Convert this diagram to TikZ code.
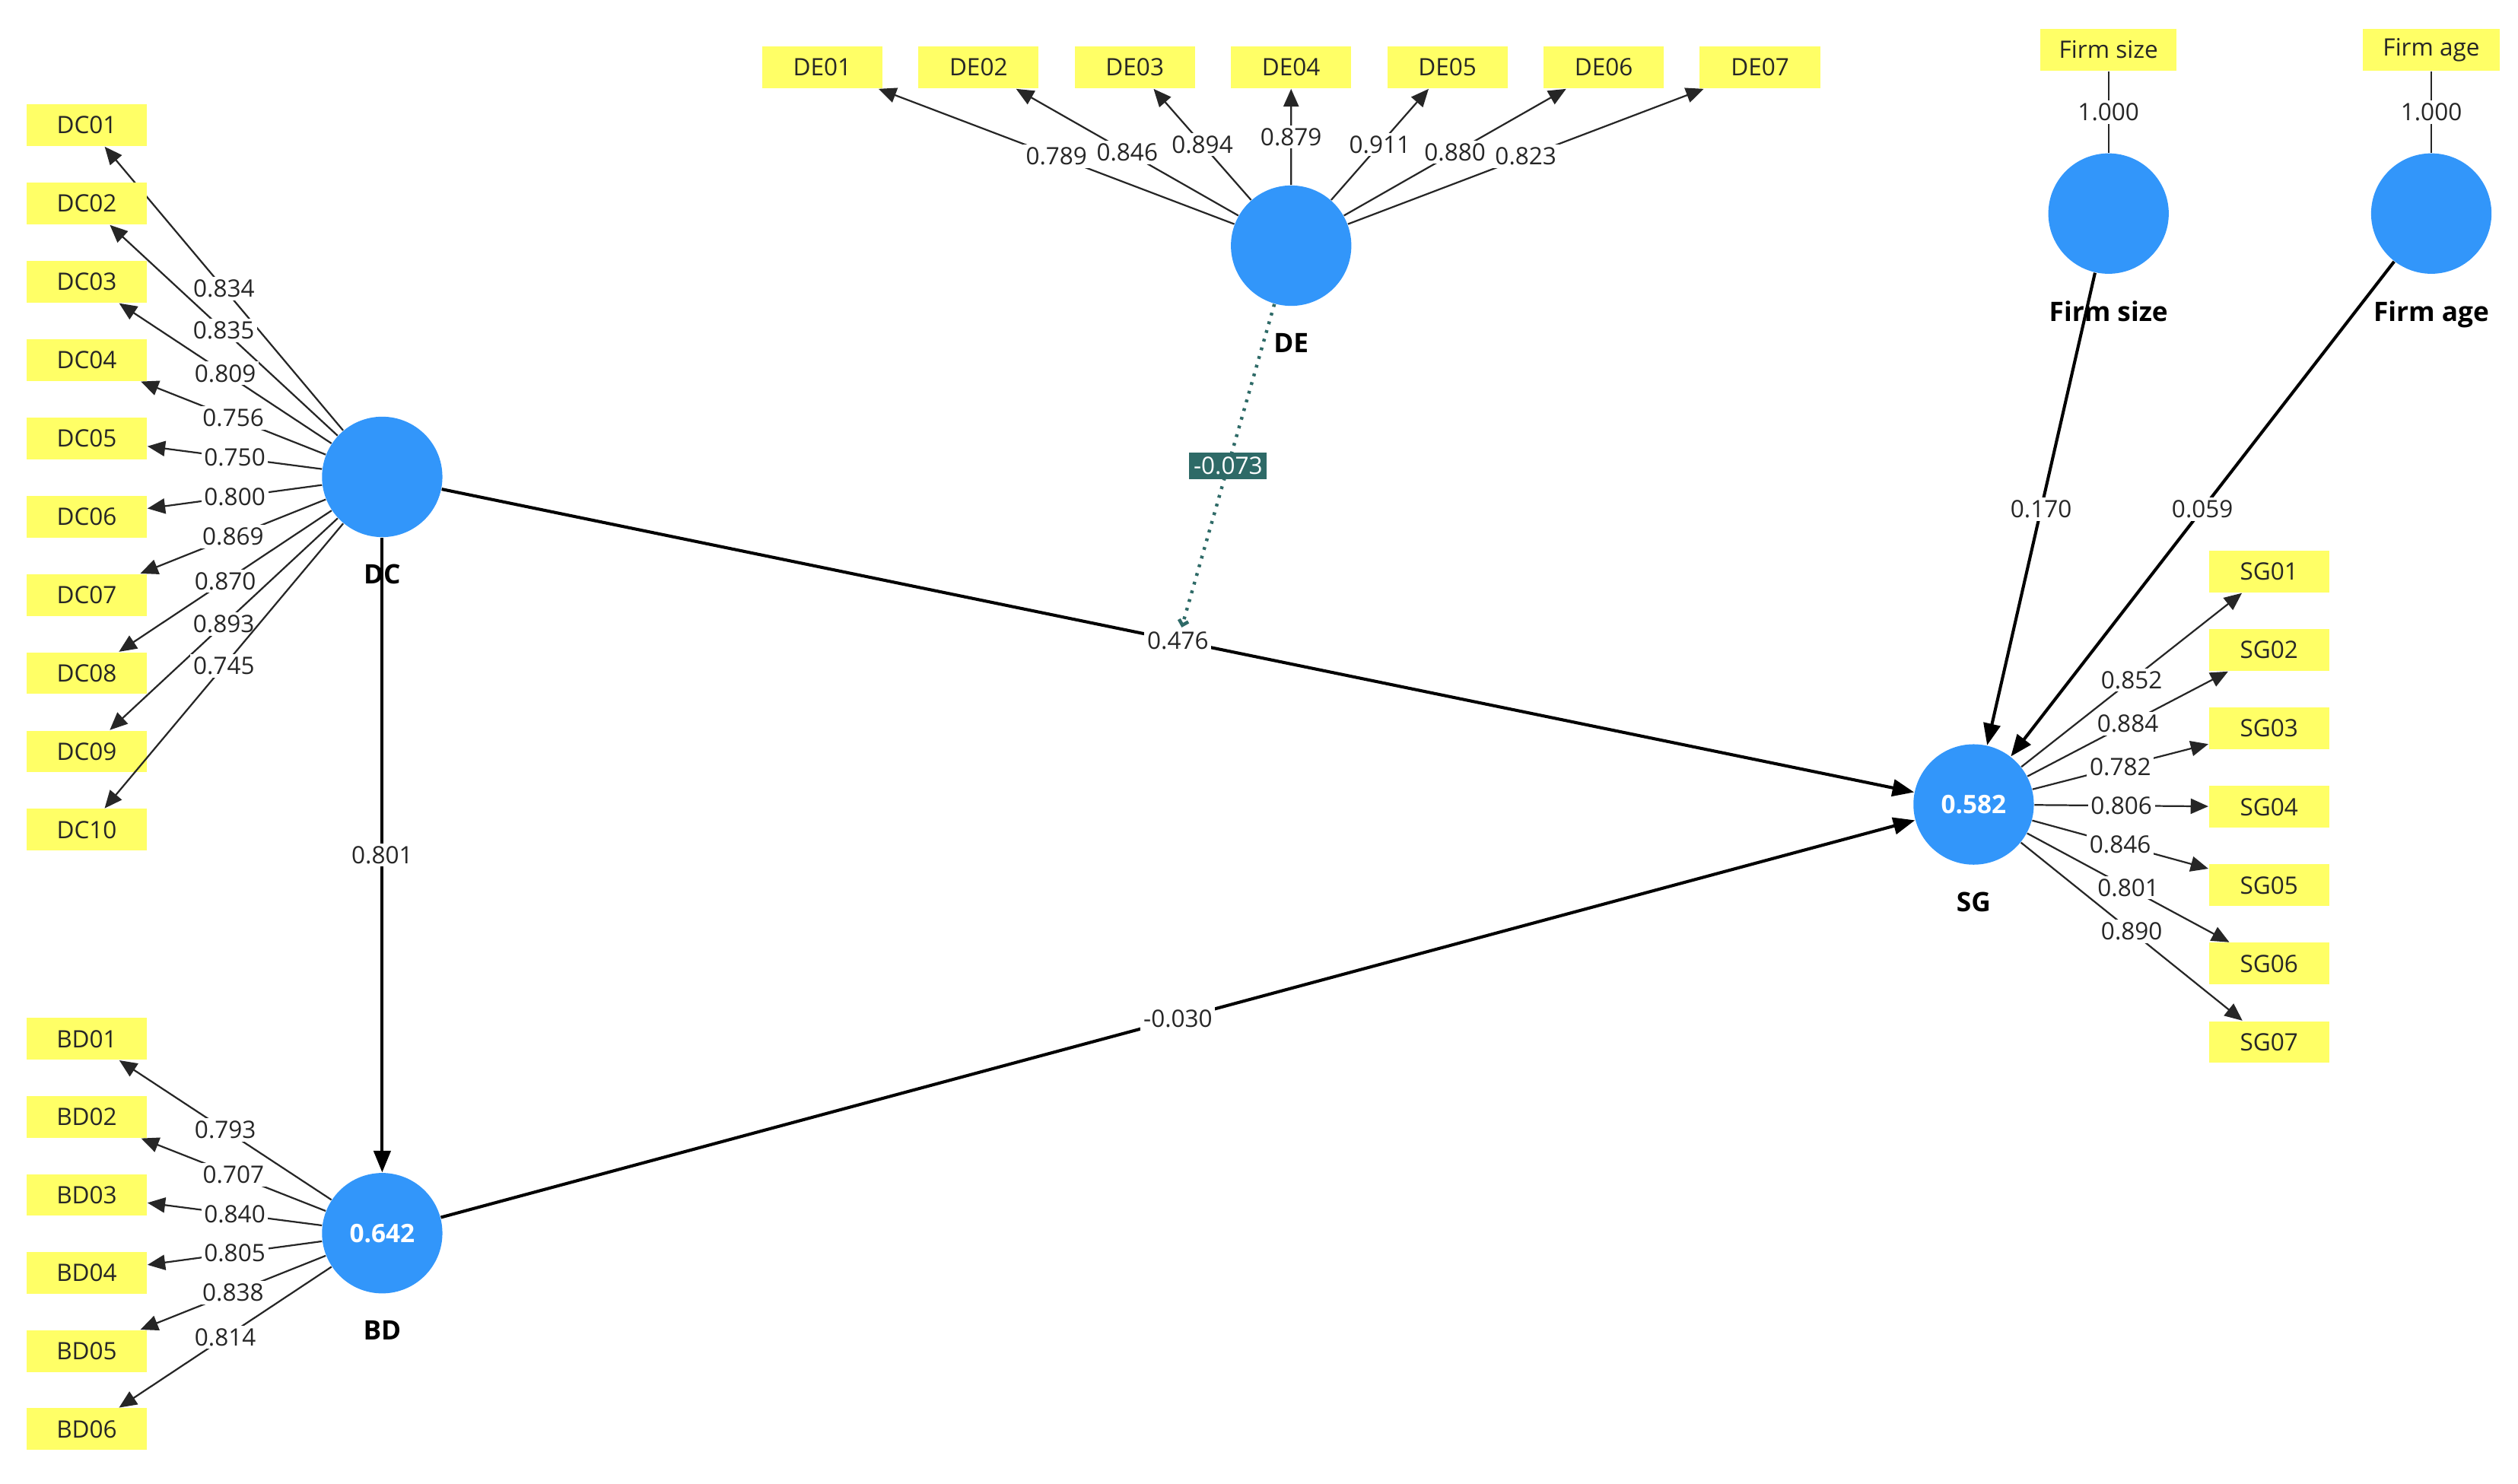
\documentclass[tikz,border=0pt]{standalone}
\usepackage{fontspec}
\setmainfont{Open Sans}
\usepackage{tikz}
\usetikzlibrary{positioning, arrows, arrows.meta}

\definecolor{lvblue}{HTML}{3296FA}
\definecolor{mvyellow}{HTML}{FFFF66}
\definecolor{modteal}{HTML}{2E6A67}

\tikzset{
  latent/.style={circle, fill=lvblue, minimum size=1.5cm, inner sep=0pt,
    text=white, font=\bfseries\fontsize{9}{10}\selectfont},
  ind/.style={rectangle, fill=mvyellow, minimum width=1.5cm, minimum height=0.52cm,
    inner sep=0pt, text=black!85, font=\fontsize{8.5}{10}\selectfont},
  lname/.style={font=\bfseries\fontsize{9.5}{11}\selectfont, inner sep=0pt,
    label distance=0.33cm},
  lval/.style={fill=white, inner sep=1pt, text=black!85, font=\fontsize{8.5}{10}\selectfont},
  load/.style={-{Triangle[length=0.22cm,width=0.19cm]}, line width=0.6pt, black!85},
  struct/.style={-{Triangle[length=0.27cm,width=0.21cm]}, line width=1.1pt, black},
  modline/.style={-{Straight Barb[length=0.6mm,width=1.2mm]}, modteal, line width=1.2pt,
    dash pattern=on 1pt off 2.2pt},
  modlbl/.style={fill=modteal, text=white, inner sep=1.5pt, font=\fontsize{8.5}{10}\selectfont}
}

\begin{document}
\begin{tikzpicture}[x=0.02cm, y=-0.02cm]
\useasboundingbox (0,0) rectangle (1568,924);

% latent variables
\node[latent, label={[lname]below:DC}] (DC) at (238,297) {};
\node[latent, label={[lname]below:BD}] (BD) at (238,768) {0.642};
\node[latent, label={[lname]below:DE}] (DE) at (804,153) {};
\node[latent, label={[lname]below:SG}] (SG) at (1229,501) {0.582};
\node[latent, label={[lname]below:Firm size}] (FS) at (1313,133) {};
\node[latent, label={[lname]below:Firm age}] (FA) at (1514,133) {};

% DC indicators
\foreach \n/\v [count=\i] in {DC01/0.834, DC02/0.835, DC03/0.809, DC04/0.756, DC05/0.750,
  DC06/0.800, DC07/0.869, DC08/0.870, DC09/0.893, DC10/0.745} {
  \node[ind] (\n) at (54,{78+(\i-1)*48.75}) {\n};
  \draw[load] (DC) -- (\n) node[midway, lval] {\v};
}

% BD indicators
\foreach \n/\v [count=\i] in {BD01/0.793, BD02/0.707, BD03/0.840, BD04/0.805,
  BD05/0.838, BD06/0.814} {
  \node[ind] (\n) at (54,{647+(\i-1)*48.6}) {\n};
  \draw[load] (BD) -- (\n) node[midway, lval] {\v};
}

% DE indicators
\foreach \n/\v [count=\i] in {DE01/0.789, DE02/0.846, DE03/0.894, DE04/0.879,
  DE05/0.911, DE06/0.880, DE07/0.823} {
  \node[ind] (\n) at ({512+(\i-1)*97.33},42) {\n};
  \draw[load] (DE) -- (\n) node[midway, lval] {\v};
}

% SG indicators
\foreach \n/\v [count=\i] in {SG01/0.852, SG02/0.884, SG03/0.782, SG04/0.806,
  SG05/0.846, SG06/0.801, SG07/0.890} {
  \node[ind] (\n) at (1413,{356+(\i-1)*48.83}) {\n};
  \draw[load] (SG) -- (\n) node[midway, lval] {\v};
}

% control variables
\node[ind, minimum width=1.7cm] (FSi) at (1313,31) {Firm size};
\node[ind, minimum width=1.7cm] (FAi) at (1514,31) {Firm age};
\draw[line width=0.6pt, black!85] (FSi) -- (FS) node[midway, lval] {1.000};
\draw[line width=0.6pt, black!85] (FAi) -- (FA) node[midway, lval] {1.000};

% structural paths
\draw[struct] (DC) -- (SG) node[midway, lval] (dcsg) {0.476};
\draw[struct] (DC) -- (BD) node[midway, lval] {0.801};
\draw[struct] (BD) -- (SG) node[midway, lval] {-0.030};
\draw[struct] (FS) -- (SG) node[midway, lval] {0.170};
\draw[struct] (FA) -- (SG) node[midway, lval] {0.059};

% moderating effect
\draw[modline] (DE) -- (dcsg) node[midway, modlbl] {-0.073};

\end{tikzpicture}
\end{document}
